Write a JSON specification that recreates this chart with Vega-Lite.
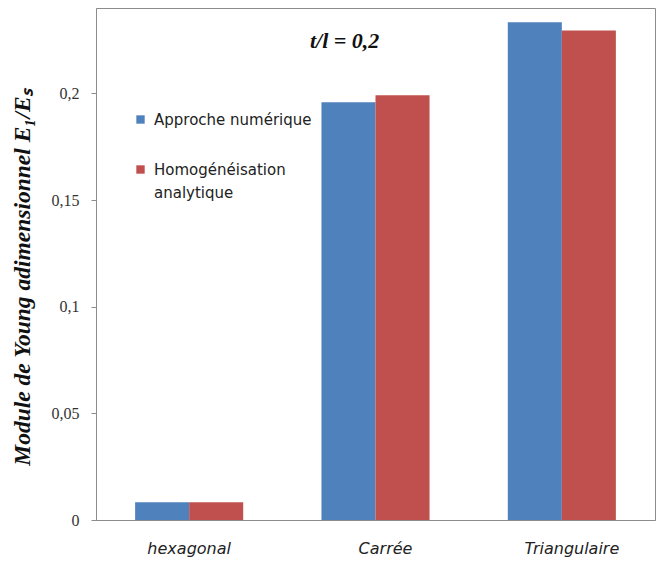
{
  "$schema": "https://vega.github.io/schema/vega-lite/v6.json",
  "width": 559,
  "height": 512,
  "autosize": "none",
  "padding": {"left": 96, "top": 8, "right": 2, "bottom": 42},
  "background": "white",
  "config": {
    "view": {"stroke": "#8c8c8c", "strokeWidth": 1},
    "font": "Liberation Sans"
  },
  "title": {
    "text": "t/l = 0,2",
    "font": "Liberation Serif",
    "fontStyle": "italic",
    "fontWeight": "bold",
    "fontSize": 22,
    "color": "#111111",
    "anchor": "start",
    "frame": "group",
    "dx": 214,
    "dy": 49
  },
  "data": {
    "values": [
      {"forme": "hexagonal", "serie": "Approche numérique", "valeur": 0.0083},
      {"forme": "hexagonal", "serie": "Homogénéisation analytique", "valeur": 0.0083},
      {"forme": "Carrée", "serie": "Approche numérique", "valeur": 0.1958},
      {"forme": "Carrée", "serie": "Homogénéisation analytique", "valeur": 0.1991},
      {"forme": "Triangulaire", "serie": "Approche numérique", "valeur": 0.2333},
      {"forme": "Triangulaire", "serie": "Homogénéisation analytique", "valeur": 0.2294}
    ]
  },
  "mark": {"type": "bar"},
  "encoding": {
    "x": {
      "field": "forme",
      "type": "nominal",
      "sort": ["hexagonal", "Carrée", "Triangulaire"],
      "scale": {"paddingInner": 0.42, "paddingOuter": 0.21},
      "axis": {
        "title": null,
        "labelAngle": 0,
        "labelFont": "DejaVu Sans",
        "labelFontStyle": "italic",
        "labelFontSize": 16,
        "labelColor": "#222222",
        "labelPadding": 20,
        "labelOffset": {"condition": {"test": "datum.value == 'hexagonal'", "value": 0}, "value": 10},
        "ticks": false,
        "domainColor": "#8c8c8c"
      }
    },
    "xOffset": {
      "field": "serie",
      "type": "nominal",
      "sort": ["Approche numérique", "Homogénéisation analytique"],
      "scale": {"paddingInner": 0, "paddingOuter": 0}
    },
    "y": {
      "field": "valeur",
      "type": "quantitative",
      "scale": {"domain": [0, 0.24], "nice": false},
      "axis": {
        "title": "Module de Young adimensionnel E₁/Eₛ",
        "titleFont": "Liberation Serif",
        "titleFontStyle": "italic",
        "titleFontWeight": "bold",
        "titleFontSize": 23.5,
        "titleColor": "#111111",
        "titleY": 269,
        "titleX": -74,
        "titleBaseline": "middle",
        "values": [0, 0.05, 0.1, 0.15, 0.2],
        "labelExpr": "replace(toString(datum.value), '.', ',')",
        "labelFont": "Liberation Serif",
        "labelFontSize": 16,
        "labelColor": "#333333",
        "labelPadding": 12,
        "grid": false,
        "tickColor": "#8c8c8c",
        "tickSize": 5,
        "domainColor": "#8c8c8c"
      }
    },
    "color": {
      "field": "serie",
      "type": "nominal",
      "sort": ["Approche numérique", "Homogénéisation analytique"],
      "scale": {
        "domain": ["Approche numérique", "Homogénéisation analytique"],
        "range": ["#4F81BD", "#C0504D"]
      },
      "legend": {
        "title": null,
        "orient": "none",
        "legendX": 37,
        "legendY": 104,
        "symbolType": "square",
        "symbolSize": 70,
        "symbolStrokeWidth": 0,
        "labelFont": "DejaVu Sans",
        "labelFontSize": 15,
        "labelColor": "#222222",
        "labelLimit": 300,
        "rowPadding": 34,
        "labelOffset": 6,
        "labelExpr": "datum.label == 'Homogénéisation analytique' ? ['Homogénéisation', 'analytique'] : datum.label",
        "encode": {"labels": {"update": {"lineHeight": {"value": 23}}}}
      }
    }
  }
}
